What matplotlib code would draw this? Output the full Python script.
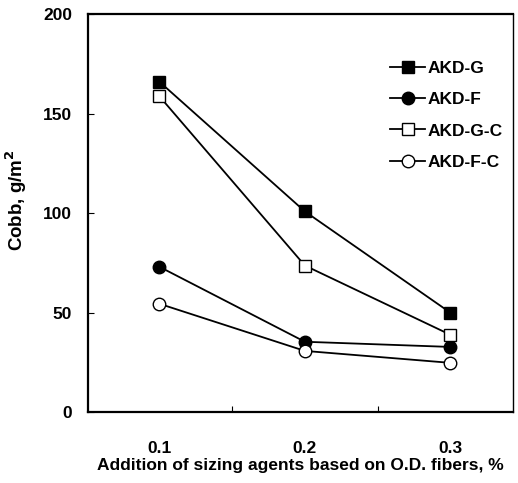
import matplotlib
matplotlib.use("Agg")
import matplotlib.pyplot as plt
from matplotlib.ticker import FixedLocator

plt.rcParams['font.family'] = ['Liberation Sans Narrow', 'Liberation Sans', 'DejaVu Sans']
plt.rcParams['font.weight'] = 'bold'

categories = ["0.1", "0.2", "0.3"]
akd_g = [166, 100.8, 49.9]
akd_f = [73, 35.3, 32.7]
akd_g_c = [158.7, 73.6, 38.8]
akd_f_c = [54.4, 30.7, 24.7]
yticks = [0, 50, 100, 150, 200]

fig = plt.figure(figsize=(5.18, 4.83), dpi=100)
ax = fig.add_axes([0.1699, 0.147, 0.8204, 0.824])

x = list(range(len(categories)))
lw = 1.3
ax.plot(x, akd_g, '-s', color='black', mfc='black', mec='black', ms=9, lw=lw, label='AKD-G', zorder=3)
ax.plot(x, akd_f, '-o', color='black', mfc='black', mec='black', ms=9, lw=lw, label='AKD-F', zorder=3)
ax.plot(x, akd_g_c, '-s', color='black', mfc='white', mec='black', ms=9, mew=1.0, lw=lw, label='AKD-G-C', zorder=4)
ax.plot(x, akd_f_c, '-o', color='black', mfc='white', mec='black', ms=9, mew=1.0, lw=lw, label='AKD-F-C', zorder=4)

ax.set_xlim(-0.49, 2.43)
ax.set_ylim(0, 200)
ax.set_xticks(x)
ax.set_xticklabels(categories, fontsize=12.5, fontweight='bold')
ax.xaxis.set_minor_locator(FixedLocator([0.5, 1.5]))
ax.tick_params(axis='x', which='major', length=0, pad=21)
ax.tick_params(axis='x', which='minor', direction='in', length=4, width=0.8)
ax.set_yticks(yticks)
ax.set_yticklabels([str(v) for v in yticks], fontsize=12.5, fontweight='bold')
ax.tick_params(axis='y', direction='in', length=4, width=0.8, pad=11.5)

for s in ax.spines.values():
    s.set_linewidth(1.6)
ax.spines['right'].set_linewidth(1.0)

ax.set_xlabel('Addition of sizing agents based on O.D. fibers, %', fontsize=12.5, fontweight='bold', labelpad=1)
ax.set_ylabel('Cobb, g/m$^\\mathbf{2}$', fontsize=13.5, fontweight='bold')
ax.yaxis.set_label_coords(-0.138, 0.533)

leg = ax.legend(loc='upper left', bbox_to_anchor=(0.695, 0.90), frameon=False,
                fontsize=12.5, handlelength=2.0, handletextpad=0.15, labelspacing=0.93,
                borderaxespad=0)
for t in leg.get_texts():
    t.set_fontweight('bold')

fig.savefig('out.png', dpi=100)
